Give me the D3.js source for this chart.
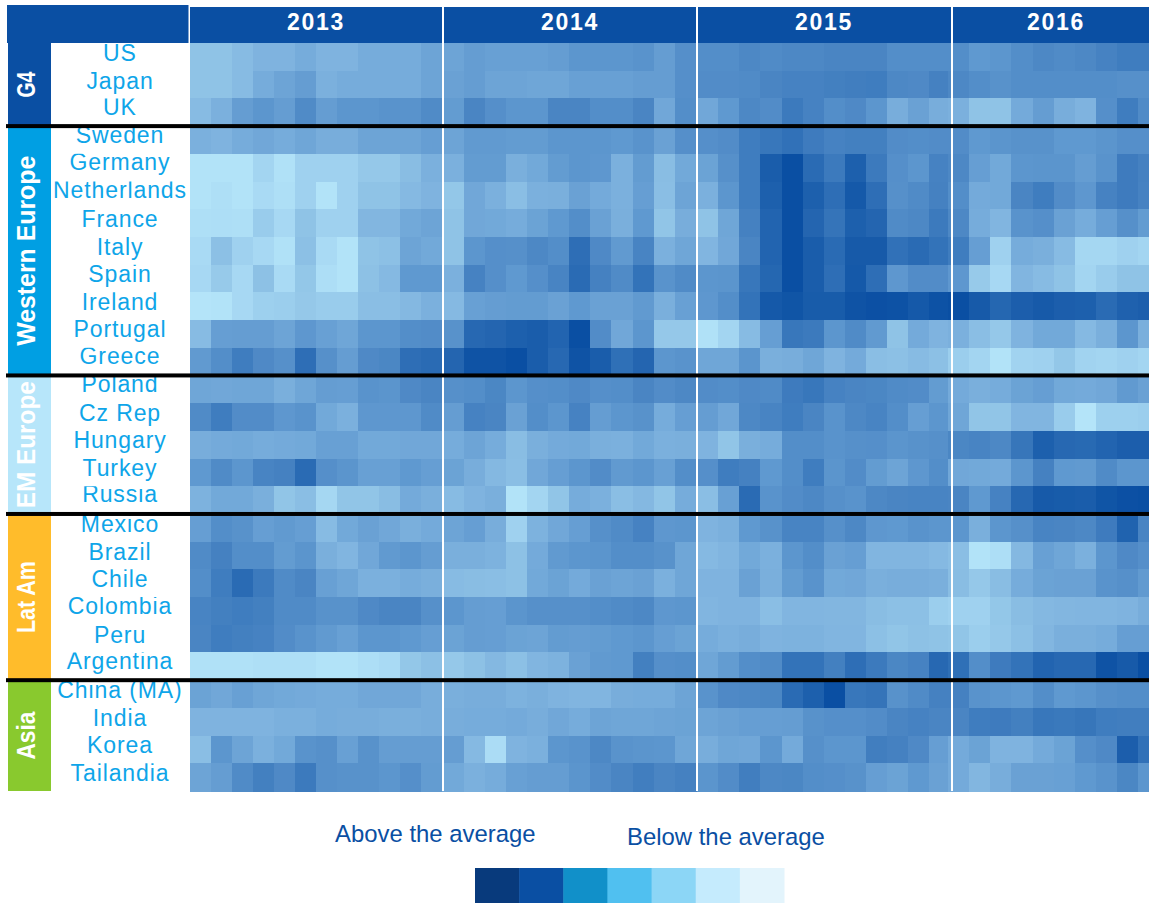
<!DOCTYPE html>
<html>
<head>
<meta charset="utf-8">
<script src="https://cdn.jsdelivr.net/npm/d3@7"></script>
<style>
    html, body { margin: 0; padding: 0; background: #fff; }
    svg { display: block; }
    text { font-family: "Liberation Sans", Arial, sans-serif; }
</style>
</head>
<body>
<svg id="chart" width="1149" height="903"></svg>
<script>
// data
var years = ["2013", "2014", "2015", "2016"];
var monthsPerYear = [12, 12, 12, 10];
var groups = ["G4", "Western Europe", "EM Europe", "Lat Am", "Asia"];
var groupSizes = [3, 9, 5, 6, 4];
var countries = ["US", "Japan", "UK", "Sweden", "Germany", "Netherlands", "France", "Italy", "Spain",
    "Ireland", "Portugal", "Greece", "Poland", "Cz Rep", "Hungary", "Turkey", "Russia", "Mexico",
    "Brazil", "Chile", "Colombia", "Peru", "Argentina", "China (MA)", "India", "Korea", "Tailandia"];
var legendLabels = ["Above the average", "Below the average"];
var legendSteps = [0, 1, 2, 3, 4, 5, 6];

// one line per country, 0 = lightest, 10 = darkest
var heatValues = [
    [2,2,2.5,3,3,3.5,3,3,3.5,3.5,3.5,4, 4,4.5,4.3,4.3,4.3,4.5,5,5,5,5.2,4.5,5.5, 5.6,5.6,6,5.8,6,6,6.2,6.2,6.2,5.6,5.6,5.6, 5.6,4.8,5,5.6,6,5.8,6,6.4,6.8,6.8],
    [2,2,2.5,3.5,4,4.5,3.2,3.5,3.5,3.5,3.5,4, 4.2,4.5,4,4,3.9,3.9,4.3,4.3,4.3,4.5,4.5,5.5, 5.7,5.7,5.8,6.2,6.4,6.4,6.6,6.7,6.8,6,5.9,6.5, 6,5.6,5.3,5.6,5.6,5.6,5.6,5.6,5.4,5.4],
    [2.5,3.2,4.5,5,4.5,5.8,4.5,5,5,5.2,5.2,5.8, 4.6,6.2,5.5,5,5,6.2,6.2,5.6,5.6,6.2,3.8,5.6, 3.8,4.8,6,5.7,7,6.4,5.6,5.9,5,3.4,4.2,3.4, 3.2,2,2,3.6,4.5,3.4,3,5.5,6.8,5.8],
    [3.2,3,3.5,3.8,3.5,3.9,3.4,3.4,4,4,4,4.4, 4,4.7,4.7,4.6,4.6,5,5,5,4.8,5.2,4.2,5.5, 5.5,5.7,6.8,7.2,7.6,6.9,6.4,6.6,6.6,5.7,5.6,5.7, 5.7,4.8,5.1,5.3,5.3,4.8,4.8,5.1,5.5,5.5],
    [.2,.2,.2,1,.3,1.2,1.2,1.2,1.7,1.7,2.4,3.2, 3.2,4.6,4.6,3.3,3.7,4.6,5,4.9,3.2,4.6,2.4,3.7, 4.1,5.4,6.8,9,10,8,7,8.8,7,5.5,5,6.4, 6,4.4,3.7,5,5.1,5.1,4.5,5.2,6.9,6.5],
    [.2,.4,.2,.7,.4,1.2,.2,1.2,2,2,2.6,3, 1.8,3.8,3.2,2.3,3.2,3.3,4.2,3.6,3.2,4.4,2.3,4, 3.2,5,6.8,8.8,10,8.8,7.8,9.3,7.8,5.4,5.8,6.5, 5.6,3.6,3.7,6.2,6.8,5.7,4.9,6.4,6.9,6.4],
    [.4,.5,.4,1.5,.8,2,1.2,1.2,2.8,2.8,3.7,4, 2,3.8,3.7,3.5,4.1,4.8,5.6,4.2,3.3,4.8,1.9,3.4, 2,3.9,6.5,8.5,10,8.4,7.4,8.8,8.4,5.8,6,7, 6,3.5,2.9,5.2,5.5,4.2,3.5,4.4,5.4,4.6],
    [.7,2.2,1.2,.8,.3,2.2,.7,.2,2,2.2,4,3.7, 2,5,5.5,5.4,6,5.6,7.8,5.9,4.7,6.3,3.2,3.9, 2.9,3.8,6.2,8.5,10,9,8,9.2,9.2,7.6,8,7.5, 6.8,4.4,1.2,3.5,3.3,2.5,.9,.9,1.2,1],
    [.8,1.6,.8,2.1,.7,1.8,.5,.2,2.1,2.6,4.8,4.8, 3.2,6.4,5.5,4.8,5.5,6.3,8,6.5,5.8,7.5,5.2,5.8, 5,5.1,7.2,8.3,10,9,7.8,9.3,7.8,4.9,5.7,5.7, 4.9,1.6,.8,2.9,2.5,2,1,1.5,2,2],
    [.1,.2,.8,1.3,1.4,1.7,1.5,1.5,2.3,2.3,2.7,3.2, 2.6,4.3,4.5,4.6,4.6,4.2,4.8,4.2,4.2,4.7,3.3,4.3, 4.9,5.6,7.5,9.3,9.6,9.1,9.1,9.7,9.9,9.8,9.3,9.8, 10,9.2,8.3,8.9,9.2,8.9,8.8,8,8.7,8.9],
    [2.5,4.4,4.5,4.5,4,4.9,4.3,3.9,5,5,5.6,5.7, 5.3,8.2,8.4,8.8,9,8.5,10,5.7,3.8,5,1.7,1.7, .3,1,2.5,4.4,7.2,7,5,5.8,4.7,2,3.6,3, 3.2,2.3,1.7,3,3.7,3.7,2.6,3.3,5,3.3],
    [4.7,5.6,6.8,5.9,5.4,7.8,5.4,4.5,5.9,6.1,7.8,8, 8.4,9.7,9.7,10,9,8.2,9.7,9,7.7,8.4,5,5.2, 3.9,3.9,5.1,3.3,3.4,3.9,3,3.6,2.3,2.2,2.5,2.2, 1.4,1,.2,1.1,1.2,1.8,1.1,1,1.2,1],
    [3.9,3.8,3.9,3.9,3.3,3.9,4.5,4.4,5.2,5.1,5.9,6.2, 5.4,5.6,6.1,5,5.5,5.6,5.9,5.5,5.6,6.2,5.7,6, 5.7,5.6,5.9,5.8,6.9,7.2,6.4,6.2,6.1,5.8,5.7,4.6, 3.6,3.3,3.5,4.1,4.4,3.7,3.6,3.8,4.7,4.2],
    [5.8,6.8,5.7,5.7,4.9,5.2,3.7,3.2,4.9,4.9,4.9,5.8, 4.5,6.4,6.2,4.2,5.6,5,6.4,4.5,5,5.3,3.5,4.4, 4.5,3.8,6,6.3,6.8,6.2,5.2,6,6.3,5.6,4.4,5, 3.9,1.9,1.9,2.9,2.9,1.5,.1,1.3,1.3,1.4],
    [3.4,3.6,3.7,3.5,3.6,3.7,4.3,4.3,3.7,3.7,3.8,3.8, 3.5,4,3.5,2.4,3.3,3.6,3.7,3.3,3.2,3.7,3.2,3.3, 3,1.9,3.3,3.5,5.6,5.6,5.2,5.4,5.5,5.1,5.3,5.4, 6.1,6.3,6,7.3,8.8,8.2,8.1,8.5,8.9,8.9],
    [4.8,5.8,5,6.3,6.5,8,5.5,5.1,4.3,4.3,4.8,4.4, 4.1,3.4,2.7,2.3,3.8,4.4,5,5.7,4.7,5,4.3,5.6, 5.5,6.8,6.5,4.8,5.6,6.8,5.1,5.7,4.6,4,4.9,5.6, 3.8,3.7,3.6,5,6.5,4.8,4.7,5.8,5,5],
    [3.1,3.7,3.7,3.3,1.9,2.3,.9,1.9,1.9,2.4,3.6,3.3, 2.5,3,3.3,.2,1,1.9,3.5,3.2,2.3,2.7,1.9,3.5, 2.3,4.3,8,5.2,5.7,6,5.4,5.2,6,6.2,6.3,6.3, 6.2,4.8,6.4,8.2,9.2,9.1,9,9.6,9.9,10],
    [4.4,5.6,5.3,4.4,4.7,4.4,2.5,3.7,4.2,3.8,3.3,3.6, 4,4.4,3.4,1.2,3.1,3.8,4.4,5.4,5.8,6.4,4.9,5, 3,3.2,4.8,5.3,6.3,6.3,5.4,6,4.9,4.8,5.2,5, 5,3.3,5,5.4,6.3,6.2,6,6.9,8.6,6.3],
    [5.8,6.5,5.6,5.6,4.6,5.1,3.3,2.9,3.8,4.7,5,4.5, 3.3,3.3,3.1,2.1,3.6,4.7,5,5.1,5.6,5.6,5.3,3.9, 2.6,2.9,3.7,3.2,5,5.6,4.2,4.4,2.9,2.9,2.9,2.6, 2.3,.2,.5,2.7,4.3,3.9,3.2,5,5.9,5.5],
    [5.6,6.8,8,7,5.8,6.2,4.3,3.9,3.2,3.2,3.5,3.3, 2.5,2.4,2.3,2.1,3.7,4.1,3.6,4.2,4,4.2,3.2,3.9, 3,3,4.2,3.3,4.6,5.2,3.7,3.8,3.3,3.4,3.4,3.3, 2.4,1.7,2.4,3.5,4.1,4.2,4.2,5.2,5.4,4.7],
    [6.3,6.6,6.8,6.6,5.8,5.8,5.3,5.3,5.9,6.2,6.2,5.4, 5,4.5,4.4,5.1,5.4,5.4,5.4,5.6,5.8,6,4.9,5, 2.9,3,3,2.3,2.9,2.9,2.8,2.8,2.4,2.2,2.2,1.4, 1.2,1.2,1.8,2.4,2.7,2.8,2.9,2.9,3,3.4],
    [6.2,6.8,6.6,6.4,5.7,5.2,4.7,4.3,5,5,4.8,4.4, 4.1,4.5,4.4,4.1,4,4.6,4.5,4.6,4.8,5,4.4,4.1, 3.5,3.2,3.4,3,3.1,3.1,2.9,2.9,2.2,1.9,2.1,2, 1.9,1.4,1.7,2.2,2.8,3.3,3.3,3.5,4.4,4.4],
    [.3,.3,.3,.4,.4,.4,.2,.2,.5,.7,1.8,2.2, 1.7,2.1,2.7,2.2,2.9,3.1,4.2,4.7,4.8,6.6,5.5,5.6, 3.9,4.6,5.6,5.8,7.5,7.5,6.6,7.8,7,6.1,6.4,8.2, 7.7,5.6,6.9,7.5,8.5,8.2,8.2,9.7,9.2,10],
    [4.1,3.8,4.3,3.9,3.7,3.6,3.5,3.5,3.8,3.8,3.8,3.4, 3.3,3.4,3.4,3.1,3.3,3,2.9,2.9,3.4,3.5,3.5,4, 5.2,5.9,6,6.1,8,8.8,10,7.2,7.4,5.3,5.8,6.5, 6.5,5.2,5,4.8,5.6,4.8,5,5.4,5.6,5.6],
    [3,3,3,3,3.2,3.2,3.5,3.4,3.4,3.3,3.3,3.4, 3.4,3.5,3.5,3.6,3.4,3.8,3.5,4,3.9,3.9,4,4.1, 4,4.2,4.4,4.4,4.5,5.3,5.5,5.5,5.7,6.2,6.4,6.2, 6.2,6.8,6.9,6.6,7.2,7.1,7.3,6.8,6.7,6.7],
    [2.3,5,4,3.2,3.7,5.2,5.4,4.3,5.3,4.5,4.5,4.5, 4.5,2.6,.6,3,3.2,5,5.2,6,5.2,5.1,5,3.9, 3.4,3.9,3.8,5,3.6,5.4,5,5,6.7,6.5,5.9,4.4, 3.6,4.1,3,3,3.6,4.1,5.5,5.9,8.9,7.6],
    [4,4.5,5.8,6.6,5.9,7,5.4,5.3,5.3,5,5.5,4.6, 3.7,3.2,3.5,4.3,4.5,4.5,5.1,5.7,6.2,6.7,6.2,6.5, 5.1,5.7,6.7,6,6.1,5.6,5.5,5.3,4.4,4.1,4.8,4.2, 3.6,2.8,3.4,4.2,4.2,4.3,4.8,5.2,6.1,5]
];

// layout and styles
var headerBlue = "#0A4FA3";
var labelBlue = "#0EA5E9";
var groupColors = ["#0A4FA3", "#009FE3", "#B7E6FA", "#FFBC2B", "#89C92E"];
var groupLengths = [26, 190, 127, 72, 48];
var groupFontSizes = [25, 25, 25, 25, 25];
var yearRanges = [[190, 442], [442.4, 696], [697, 950.6], [948, 1159.5]];
var yearLabelX = [316, 570, 824, 1056];
var gapX = [442, 696, 951];
var legendColors = ["#083A7C", "#0A4FA3", "#1190C9", "#50C0F0", "#8CD6F6", "#C5EBFD", "#E3F4FC"];
// baseline below the row centre, the labels do not sit evenly in the original
var labelNudge = [4, 4, 3, 3.5, 2.5, 3, 3.7, 4.3, 3.3, 4, 3, 2.5, 2.4, 3.7, 3.4, 3.7, 1.7, 4, 4.6, 4, 3.2, 4, 3, 4.3, 4.4, 3.7, 3.7];

var svg = d3.select("#chart");

var yScale = d3.scaleBand()
    .domain(countries)
    .range([43, 791]);

var colorScale = d3.scaleLinear()
    .domain([0, 1, 2, 3, 4, 5, 6, 7, 8, 9, 10])
    .range(["#B6E6FA", "#A3D5F1", "#8FC3E6", "#7FB3DF", "#6DA4D6", "#5C96CE", "#4D88C5", "#3C7ABD", "#2A6BB4", "#1A5DAB", "#0A4FA3"]);

// each year keeps its own column grid
var firstColumn = 0;
years.forEach(function (year, i) {
    var months = d3.range(monthsPerYear[i]);
    var xScale = d3.scaleBand().domain(months).range(yearRanges[i]);
    var start = firstColumn;

    var yearGroup = svg.append("g").attr("class", "year-" + year);
    countries.forEach(function (country, r) {
        yearGroup.selectAll(".cell-" + r)
            .data(months)
            .enter().append("rect")
            .attr("class", "cell-" + r)
            .attr("x", function (m) { return xScale(m); })
            .attr("y", yScale(country))
            .attr("width", xScale.bandwidth() + 0.5)
            .attr("height", yScale.bandwidth() + 0.5)
            .attr("fill", function (m) { return colorScale(heatValues[r][start + m]); })
            .attr("shape-rendering", "crispEdges");
    });
    firstColumn += monthsPerYear[i];
});

// header band
svg.append("rect")
    .attr("x", 7).attr("y", 5)
    .attr("width", 181.5).attr("height", 38)
    .attr("fill", headerBlue);

svg.append("rect")
    .attr("x", 190).attr("y", 7)
    .attr("width", 959).attr("height", 36)
    .attr("fill", headerBlue);

svg.selectAll(".gap")
    .data(gapX)
    .enter().append("rect")
    .attr("class", "gap")
    .attr("x", function (d) { return d; })
    .attr("y", 7)
    .attr("width", 2)
    .attr("height", 784)
    .attr("fill", "#fff");

svg.selectAll(".year")
    .data(years)
    .enter().append("text")
    .attr("class", "year")
    .attr("x", function (d, i) { return yearLabelX[i]; })
    .attr("y", 30)
    .attr("text-anchor", "middle")
    .attr("fill", "#fff")
    .style("font-size", "23px")
    .style("font-weight", "bold")
    .style("letter-spacing", "1.7px")
    .text(function (d) { return d; });

// country labels, clipped to their row like the original
var defs = svg.append("defs");
countries.forEach(function (country, r) {
    defs.append("clipPath")
        .attr("id", "row" + r)
        .append("rect")
        .attr("x", 51)
        .attr("y", yScale(country))
        .attr("width", 139)
        .attr("height", yScale.bandwidth() + 1);

    svg.append("text")
        .attr("x", 120)
        .attr("y", yScale(country) + yScale.bandwidth() / 2 + labelNudge[r])
        .attr("text-anchor", "middle")
        .attr("clip-path", "url(#row" + r + ")")
        .attr("fill", labelBlue)
        .style("font-size", "23px")
        .style("letter-spacing", "0.9px")
        .text(country);
});

// group side bars
var rowStart = 0;
var separators = [];
groups.forEach(function (group, i) {
    var top = yScale(countries[rowStart]);
    var last = rowStart + groupSizes[i] - 1;
    var bottom = yScale(countries[last]) + yScale.bandwidth();

    svg.append("rect")
        .attr("x", 8).attr("y", top)
        .attr("width", 43).attr("height", bottom - top)
        .attr("fill", groupColors[i]);

    svg.append("text")
        .attr("transform", "translate(35," + (top + bottom) / 2 + ") rotate(-90)")
        .attr("text-anchor", "middle")
        .attr("fill", "#fff")
        .attr("textLength", groupLengths[i])
        .attr("lengthAdjust", "spacingAndGlyphs")
        .style("font-size", groupFontSizes[i] + "px")
        .style("font-weight", "bold")
        .text(group);

    if (i < groups.length - 1) separators.push(bottom);
    rowStart = last + 1;
});

svg.selectAll(".separator")
    .data(separators)
    .enter().append("rect")
    .attr("class", "separator")
    .attr("x", 6)
    .attr("y", function (d) { return d - 2; })
    .attr("width", 1143)
    .attr("height", 4)
    .attr("fill", "#000");

// legend
var legendScale = d3.scaleBand()
    .domain(legendSteps)
    .range([475, 784]);

svg.selectAll(".legend-step")
    .data(legendSteps)
    .enter().append("rect")
    .attr("class", "legend-step")
    .attr("x", function (d) { return legendScale(d); })
    .attr("y", 868)
    .attr("width", legendScale.bandwidth() + 0.5)
    .attr("height", 35)
    .attr("fill", function (d) { return legendColors[d]; });

svg.selectAll(".legend-label")
    .data(legendLabels)
    .enter().append("text")
    .attr("class", "legend-label")
    .attr("x", function (d, i) { return i === 0 ? 335 : 627; })
    .attr("y", function (d, i) { return i === 0 ? 842 : 845; })
    .attr("fill", headerBlue)
    .style("font-size", "23.9px")
    .text(function (d) { return d; });
</script>
</body>
</html>
